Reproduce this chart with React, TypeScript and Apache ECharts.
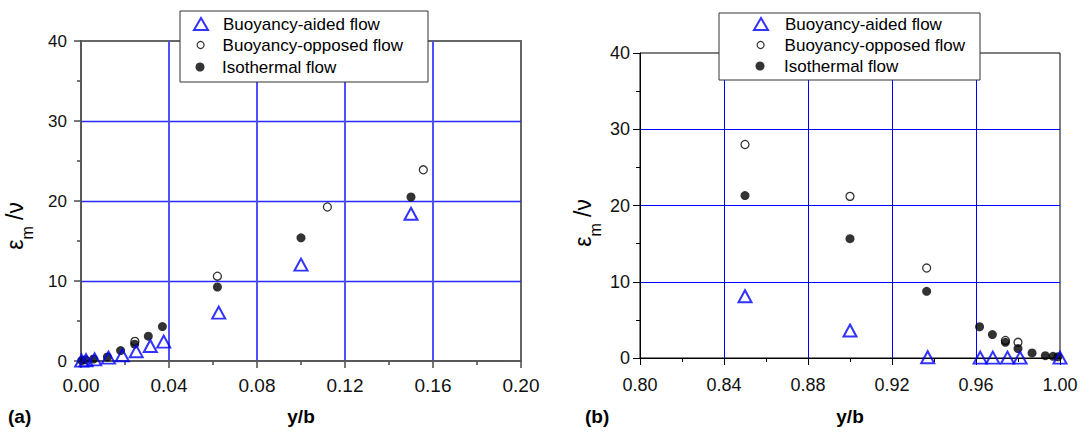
import React, { useEffect, useRef } from 'react';
import * as echarts from 'echarts';

const FONT = '"Liberation Sans", Arial, Helvetica, sans-serif';

// Series names
const NAME_AIDED = 'Buoyancy-aided flow';
const NAME_OPPOSED = 'Buoyancy-opposed flow';
const NAME_ISO = 'Isothermal flow';

// Axis ticks
const xTicksA = [0, 0.04, 0.08, 0.12, 0.16, 0.2];
const xTicksB = [0.8, 0.84, 0.88, 0.92, 0.96, 1.0];
const yTicks = [0, 10, 20, 30, 40];

// Panel (a): near wall y/b -> 0
const aidedA: [number, number][] = [
  [0.0003, 0.05], [0.0023, 0.1], [0.0062, 0.2], [0.0125, 0.42], [0.0188, 0.71],
  [0.0251, 1.21], [0.0315, 1.88], [0.0376, 2.42], [0.0626, 6.05], [0.1, 12.05], [0.15, 18.4],
];
const opposedA: [number, number][] = [
  [0.0245, 2.45], [0.062, 10.6], [0.112, 19.25], [0.1556, 23.9],
];
const isoA: [number, number][] = [
  [0.0003, 0.05], [0.002, 0.15], [0.0057, 0.25], [0.012, 0.5], [0.018, 1.3],
  [0.0244, 2.1], [0.0306, 3.1], [0.037, 4.3], [0.062, 9.25], [0.1, 15.4], [0.15, 20.5],
];

// Panel (b): near wall y/b -> 1
const aidedB: [number, number][] = [
  [0.85, 8.1], [0.9, 3.6], [0.937, 0.1], [0.962, 0.05], [0.968, 0.05],
  [0.975, 0.05], [0.981, 0.05], [1.0, 0.05],
];
const opposedB: [number, number][] = [
  [0.85, 28.0], [0.9, 21.2], [0.9365, 11.8], [0.974, 2.3], [0.98, 2.06],
];
const isoB: [number, number][] = [
  [0.85, 21.3], [0.9, 15.65], [0.9365, 8.75], [0.9617, 4.1], [0.9678, 3.07],
  [0.974, 2.06], [0.98, 1.23], [0.9867, 0.66], [0.993, 0.31], [0.9967, 0.22], [0.999, 0.15],
];

const BLUE = '#0000ff';
const Y_TITLE = '{g|ε}{s|m}{g| /ν}';

function makeAxes(idx: number, xt: number[], frame: string, frameW: number,
  xGrid: { color: string; width: number }, yGrid: { color: string; width: number }) {
  const xAxis = {
    type: 'value', gridIndex: idx,
    min: xt[0], max: xt[xt.length - 1], interval: +(xt[1] - xt[0]).toFixed(4),
    axisLine: { show: true, onZero: false, lineStyle: { color: frame, width: frameW } },
    axisTick: { show: true, length: 7, lineStyle: { color: frame, width: frameW } },
    minorTick: { show: true, splitNumber: 2, length: 4, lineStyle: { color: frame, width: frameW } },
    splitLine: { show: true, showMinLine: false, showMaxLine: false, lineStyle: { color: xGrid.color, width: xGrid.width } },
    axisLabel: {
      fontFamily: FONT, fontSize: idx === 0 ? 19 : 18, color: '#111', margin: idx === 0 ? 15 : 18,
      formatter: (v: number) => v.toFixed(2),
    },
    name: 'y/b', nameLocation: 'middle', nameGap: idx === 0 ? 46 : 49,
    nameTextStyle: { fontFamily: FONT, fontSize: 19, fontWeight: 'bold', color: '#000' },
  };
  const yAxis = {
    type: 'value', gridIndex: idx,
    min: yTicks[0], max: yTicks[yTicks.length - 1], interval: yTicks[1] - yTicks[0],
    axisLine: { show: true, lineStyle: { color: frame, width: frameW } },
    axisTick: { show: true, length: 7, lineStyle: { color: frame, width: frameW } },
    minorTick: { show: true, splitNumber: 2, length: 4, lineStyle: { color: frame, width: frameW } },
    splitLine: { show: true, showMinLine: false, showMaxLine: false, lineStyle: { color: yGrid.color, width: yGrid.width } },
    axisLabel: { fontFamily: FONT, fontSize: idx === 0 ? 17 : 18, color: '#111', margin: idx === 0 ? 14 : 10 },
  };
  return { xAxis, yAxis };
}

function makeSeries(idx: number, aided: [number, number][], opposed: [number, number][], iso: [number, number][]) {
  return [
    {
      type: 'scatter', name: NAME_OPPOSED, xAxisIndex: idx, yAxisIndex: idx, data: opposed,
      symbol: 'circle', symbolSize: 8, silent: true,
      itemStyle: { color: '#fff', borderColor: '#000', borderWidth: 1.3 },
    },
    {
      type: 'scatter', name: NAME_ISO, xAxisIndex: idx, yAxisIndex: idx, data: iso,
      symbol: 'circle', symbolSize: 9, silent: true,
      itemStyle: { color: '#000' },
    },
    {
      type: 'scatter', name: NAME_AIDED, xAxisIndex: idx, yAxisIndex: idx, data: aided,
      symbol: 'triangle', symbolSize: [13, 12], silent: true,
      itemStyle: { color: 'rgba(255,255,255,0)', borderColor: BLUE, borderWidth: 2 },
    },
  ];
}

function legendItem(name: string, cx: number, cy: number, textX: number, w: number, h: number, bw: number) {
  const left = cx - w / 2;
  return {
    show: true, selectedMode: false, orient: 'vertical', padding: 0,
    left, top: cy - 10, itemWidth: w, itemHeight: h, data: [name],
    itemStyle: { borderWidth: bw },
    textStyle: {
      fontFamily: FONT, fontSize: 17, color: '#000', lineHeight: 20,
      padding: [0, 0, 0, textX - (left + w + 5)],
    },
  };
}

// rotated title placed by its bounding box (left, top)
function yTitle(left: number, top: number) {
  return {
    type: 'text', z: 5, left, top, rotation: Math.PI / 2,
    style: {
      text: Y_TITLE, align: 'left', verticalAlign: 'middle', fill: '#000',
      rich: {
        g: { fontFamily: FONT, fontSize: 23, fill: '#000', lineHeight: 32, verticalAlign: 'top' },
        s: { fontFamily: FONT, fontSize: 16, fill: '#000', lineHeight: 32, verticalAlign: 'bottom' },
      },
    },
  };
}

export default function App() {
  const ref = useRef<HTMLDivElement>(null);
  useEffect(() => {
    if (!ref.current) return;
    const chart = echarts.init(ref.current, null, { renderer: 'svg' });
    const a = makeAxes(0, xTicksA, '#555', 1.6, { color: '#5050ff', width: 2 }, { color: '#2a2aff', width: 1.3 });
    const b = makeAxes(1, xTicksB, '#000', 1, { color: BLUE, width: 1 }, { color: BLUE, width: 1 });
    const option = {
      animation: false,
      backgroundColor: '#fff',
      grid: [
        { left: 81, top: 41, width: 440, height: 320, show: true, borderColor: '#666', borderWidth: 2, backgroundColor: 'transparent' },
        { left: 640, top: 53, width: 420, height: 305, show: true, borderColor: '#000', borderWidth: 1, backgroundColor: 'transparent' },
      ],
      xAxis: [a.xAxis, b.xAxis],
      yAxis: [a.yAxis, b.yAxis],
      legend: [
        legendItem(NAME_AIDED, 200, 24, 222, 14, 12, 2),
        legendItem(NAME_OPPOSED, 200, 45, 222, 7, 7, 1.2),
        legendItem(NAME_ISO, 200, 67, 222, 9, 9, 0),
        legendItem(NAME_AIDED, 760, 24, 784, 14, 12, 2),
        legendItem(NAME_OPPOSED, 760, 45, 784, 7, 7, 1.2),
        legendItem(NAME_ISO, 760, 66, 784, 9, 9, 0),
      ],
      graphic: [
        { type: 'rect', z: 3, shape: { x: 180, y: 11, width: 248, height: 71 }, style: { fill: '#fff', stroke: '#333', lineWidth: 1 } },
        { type: 'rect', z: 3, shape: { x: 719, y: 13, width: 261, height: 67 }, style: { fill: '#fff', stroke: '#333', lineWidth: 1 } },
        { type: 'text', z: 5, left: 8, top: 407, style: { text: '(a)', fontFamily: FONT, fontSize: 19, fontWeight: 'bold', fill: '#000' } },
        { type: 'text', z: 5, left: 585, top: 407, style: { text: '(b)', fontFamily: FONT, fontSize: 19, fontWeight: 'bold', fill: '#000' } },
        yTitle(3, 202),
        yTitle(571, 199),
      ],
      series: [
        ...makeSeries(0, aidedA, opposedA, isoA),
        ...makeSeries(1, aidedB, opposedB, isoB),
      ],
    };
    chart.setOption(option as any);
    return () => chart.dispose();
  }, []);
  return <div ref={ref} style={{ position: 'fixed', left: 0, top: 0, width: 1082, height: 433 }} />;
}
